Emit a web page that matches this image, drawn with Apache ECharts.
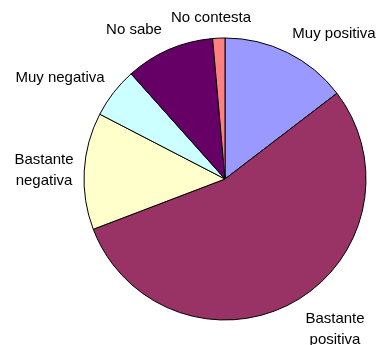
<!DOCTYPE html>
<html>
<head>
<meta charset="utf-8">
<script src="https://cdn.jsdelivr.net/npm/echarts@6/dist/echarts.min.js"></script>
<style>html,body{margin:0;padding:0;background:#fff;}#c{width:379px;height:345px;}</style>
</head>
<body>
<div id="c"></div>
<script>
var categories = ['Muy positiva', 'Bastante positiva', 'Bastante negativa', 'Muy negativa', 'No sabe', 'No contesta'];
var values = [14.6, 54.6, 13.4, 5.8, 10.2, 1.4];
var labelTexts = ['Muy positiva', 'Bastante\npositiva', 'Bastante\nnegativa', 'Muy negativa', 'No sabe', 'No contesta'];
var colors = ['#9999FF', '#993366', '#FFFFCC', '#CCFFFF', '#660066', '#FF8080'];
var labelPos = [[334, 34], [335, 329], [44, 170], [60, 78], [134, 30], [211, 18]];

var chart = echarts.init(document.getElementById('c'), null, {renderer: 'canvas'});
chart.setOption({
  animation: false,
  backgroundColor: '#ffffff',
  series: [{
    type: 'pie',
    center: [225, 179],
    radius: [0, 141],
    startAngle: 90,
    clockwise: true,
    avoidLabelOverlap: false,
    data: categories.map(function (c, i) {
      return {name: c, value: values[i], itemStyle: {color: colors[i]}};
    }),
    itemStyle: {borderColor: '#000', borderWidth: 1},
    label: {
      show: true,
      position: 'outside',
      formatter: function (p) { return labelTexts[p.dataIndex]; },
      fontFamily: 'Liberation Sans, Arial, sans-serif',
      fontSize: 15,
      lineHeight: 21,
      color: '#000'
    },
    labelLine: {show: false},
    labelLayout: function (p) {
      var pos = labelPos[p.dataIndex];
      return {x: pos[0], y: pos[1], align: 'center', verticalAlign: 'middle'};
    },
    emphasis: {disabled: true}
  }]
});
</script>
</body>
</html>
